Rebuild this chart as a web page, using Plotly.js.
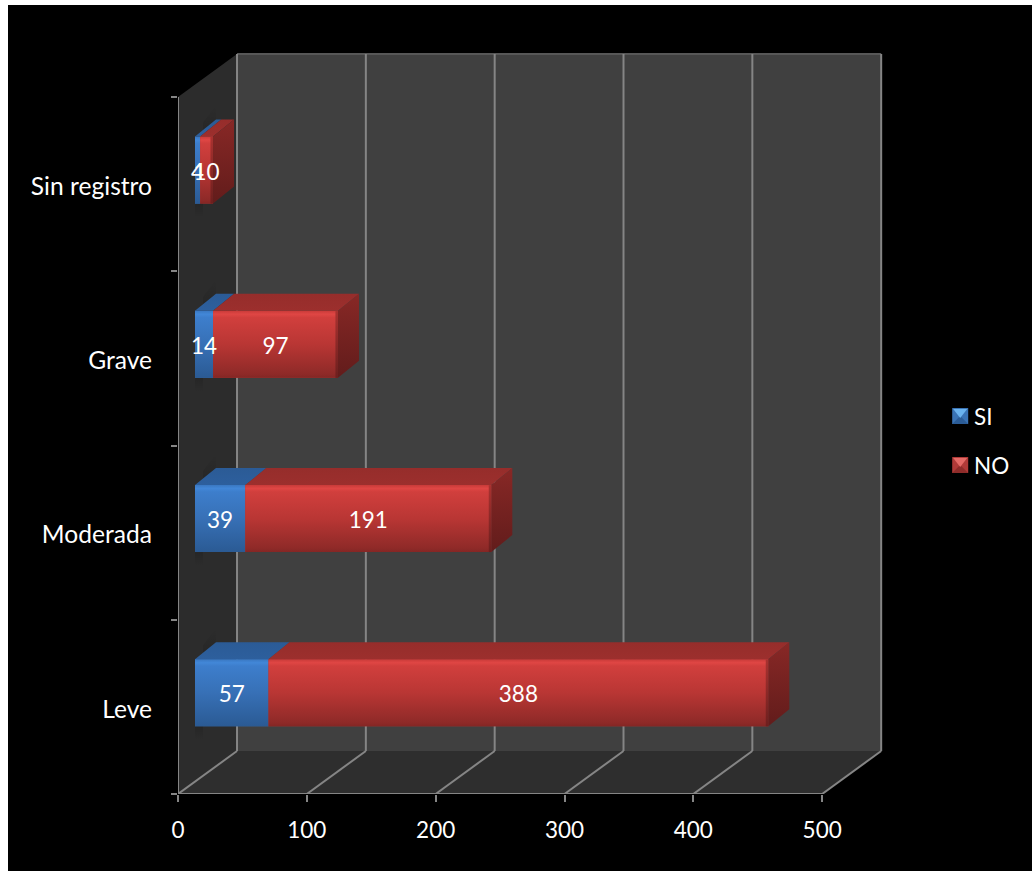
<!DOCTYPE html>
<html>
<head>
<meta charset="utf-8">
<script src="https://cdn.plot.ly/plotly-3.0.1.min.js"></script>
<style>
  html, body { margin: 0; padding: 0; background: #fff; }
  #chart { position: absolute; left: 8px; top: 5px; width: 1024px; height: 866px; }
</style>
</head>
<body>
<div id="chart"></div>
<script>
// Stacked horizontal bars with a pseudo-3D box: walls, floor and bar faces are
// all projected from data units through the cartesian axes.
const categories = ['Leve', 'Moderada', 'Grave', 'Sin registro'];
const siValues = [57, 39, 14, 4];
const noValues = [388, 191, 97, 10];
const xTicks = [0, 100, 200, 300, 400, 500];

// Axis scale, in pixels per unit
const PX_X = 1.288, PX_Y = 174.25;
const XMAX = 548, YMAX = 4.27;

// Depth offsets, in data units
const WALL_DX = 59 / PX_X, WALL_DY = 43 / PX_Y;      // front plane to back wall
const GAP_DX = 17 / PX_X, GAP_DY = 13 / PX_Y;        // front plane to bar front
const BAR_DX = 21 / PX_X, BAR_DY = 17 / PX_Y;        // depth of a bar
const BAR_H = 67 / PX_Y;

const FONT = 'Lato, Carlito, sans-serif';
const FS = 22.5;
const FS_CAT = 24.6;
const GRID = '#858585';

const barCenter = i => i + 0.5 + GAP_DY + 0.006;

function polyPath(pts) {
  return 'M' + pts.map(p => p[0] + ',' + p[1]).join('L') + 'Z';
}

// Walls and floor
const shapes = [
  { type: 'path', layer: 'below', line: { width: 0 }, fillcolor: '#404040',
    path: polyPath([[WALL_DX, WALL_DY], [500 + WALL_DX, WALL_DY], [500 + WALL_DX, 4 + WALL_DY], [WALL_DX, 4 + WALL_DY]]) },
  { type: 'path', layer: 'below', line: { width: 0 }, fillcolor: '#2c2c2c',
    path: polyPath([[0, 0], [WALL_DX, WALL_DY], [WALL_DX, 4 + WALL_DY], [0, 4]]) },
  { type: 'path', layer: 'below', line: { width: 0 }, fillcolor: '#2e2e2e',
    path: polyPath([[0, 0], [500, 0], [500 + WALL_DX, WALL_DY], [WALL_DX, WALL_DY]]) },
  { type: 'line', layer: 'below', line: { color: '#575757', width: 2 },
    x0: WALL_DX, x1: 500 + WALL_DX, y0: 4 + WALL_DY, y1: 4 + WALL_DY }
];
xTicks.forEach(t => {
  shapes.push({ type: 'line', layer: 'below', line: { color: GRID, width: 2 },
    x0: t, y0: 0, x1: t + WALL_DX, y1: WALL_DY });
  shapes.push({ type: 'line', layer: 'below', line: { color: GRID, width: 2 },
    x0: t + WALL_DX, y0: WALL_DY, x1: t + WALL_DX, y1: 4 + WALL_DY });
});

const traces = [];

// Front faces: the real stacked bars, offset into the box
function barTrace(name, values, bases, color) {
  return { type: 'bar', orientation: 'h', name, showlegend: false, hoverinfo: 'x',
    x: values, base: bases, y: categories.map((c, i) => barCenter(i)),
    width: BAR_H, marker: { color, line: { width: 0 } } };
}
const siBase = categories.map(() => GAP_DX);
const noBase = siValues.map(v => v + GAP_DX);
traces.push(barTrace('SI', siValues, siBase, '#3470b8'));
traces.push(barTrace('NO', noValues, noBase, '#b93533'));

// Filled face with a top-to-bottom shade
function face(pts, stops) {
  const closed = pts.concat([pts[0]]);
  traces.push({ type: 'scatter', mode: 'lines', fill: 'toself', showlegend: false, hoverinfo: 'skip',
    x: closed.map(p => p[0]), y: closed.map(p => p[1]), line: { width: 0 },
    fillgradient: { type: 'vertical', colorscale: stops } });
}

const BLUE_FRONT = [[0, '#2b5a93'], [0.06, '#2c5d98'], [0.5, '#3770b6'], [0.9, '#3d7ecc'], [0.95, '#4287d8'], [1, '#3a78c2']];
const RED_FRONT = [[0, '#842624'], [0.06, '#8f2a28'], [0.5, '#b93634'], [0.9, '#d13f3d'], [0.95, '#e04644'], [1, '#c93b39']];
const BLUE_TOP = [[0, '#2d5f9d'], [1, '#2b5b96']];
const RED_TOP = [[0, '#9c2f2d'], [1, '#962d2b']];
const RED_SIDE = [[0, '#621c1b'], [1, '#882826']];
const RED_EDGE = [[0, '#6c1f1e'], [1, '#a93230']];
const SHADOW_UP = [[0, 'rgba(0,0,0,0.16)'], [1, 'rgba(0,0,0,0)']];
const SHADOW_DOWN = [[0, 'rgba(0,0,0,0)'], [1, 'rgba(0,0,0,0.14)']];

categories.forEach((c, i) => {
  const y0 = barCenter(i) - BAR_H / 2, y1 = barCenter(i) + BAR_H / 2;
  const a = GAP_DX, b = a + siValues[i], e = b + noValues[i];
  // Soft shadow the bar throws on the side wall
  const sy = 14 / PX_Y, sx = 8 / PX_X;
  face([[a + sx, y1], [a + BAR_DX, y1 + BAR_DY], [a + BAR_DX, y1 + BAR_DY + sy], [a + sx, y1 + sy]], SHADOW_UP);
  face([[a, y0], [a + sx, y0], [a + sx, y0 - sy], [a, y0 - sy]], SHADOW_DOWN);
  face([[a, y0], [b, y0], [b, y1], [a, y1]], BLUE_FRONT);
  face([[b, y0], [e, y0], [e, y1], [b, y1]], RED_FRONT);
  face([[a, y1], [b, y1], [b + BAR_DX, y1 + BAR_DY], [a + BAR_DX, y1 + BAR_DY]], BLUE_TOP);
  face([[b, y1], [e, y1], [e + BAR_DX, y1 + BAR_DY], [b + BAR_DX, y1 + BAR_DY]], RED_TOP);
  face([[e, y0], [e + BAR_DX, y0 + BAR_DY], [e + BAR_DX, y1 + BAR_DY], [e, y1]], RED_SIDE);
  face([[e - 2, y0], [e, y0], [e, y1], [e - 2, y1]], RED_EDGE);
});

// Front-plane axis lines; they sit on the plot edge, so clipping is off
traces.push({ type: 'scatter', mode: 'lines', showlegend: false, hoverinfo: 'skip', cliponaxis: false,
  x: [0, 0, null, 0, 500], y: [0, 4, null, 0, 0], line: { color: GRID, width: 2 } });

// Value labels centred on each segment
function labelTrace(values, centers) {
  return { type: 'scatter', mode: 'text', showlegend: false, hoverinfo: 'skip',
    x: centers, y: categories.map((c, i) => barCenter(i) - 0.022),
    text: values.map(String), textposition: 'middle center',
    textfont: { family: FONT, size: FS, color: '#fff' } };
}
traces.push(labelTrace(siValues, siValues.map(v => GAP_DX + v / 2)));
traces.push(labelTrace(noValues, noValues.map((v, i) => GAP_DX + siValues[i] + v / 2)));

// Legend entries: the text comes from the legend, the bevelled keys are shapes beside it
function legendTrace(name, group) {
  return { type: 'scatter', mode: 'markers', name, legendgroup: group,
    x: [null], y: [null], marker: { symbol: 'square', size: 12, color: 'rgba(0,0,0,0)', line: { width: 0 } } };
}
traces.push(legendTrace('SI', 'si'));
traces.push(legendTrace('NO', 'no'));

const W = 1024, H = 866;
const marginL = 178 - 8, marginB = 871 - 794;
const marginR = W - marginL - XMAX * PX_X;
const marginT = H - marginB - YMAX * PX_Y;

// Page pixel position to paper fraction, for the legend keys
const paperX = px => (px - 178) / (XMAX * PX_X);
const paperY = py => (794 - py) / (YMAX * PX_Y);

function legendKey(x0, y0, size, body, low, high) {
  const x1 = x0 + size, y1 = y0 + size, cx = x0 + size / 2, cy = y0 + size / 2;
  const tri = (pts, color) => ({ type: 'path', xref: 'paper', yref: 'paper', layer: 'above',
    line: { width: 0 }, fillcolor: color,
    path: polyPath(pts.map(p => [paperX(p[0]), paperY(p[1])])) });
  shapes.push(tri([[x0, y0], [x1, y0], [x1, y1], [x0, y1]], body));
  shapes.push(tri([[x0, y1], [x1, y1], [cx, cy]], low));
  shapes.push(tri([[x0 + 1, y0 + 1], [x1 - 1, y0 + 1], [cx, cy + 2]], high));
}
legendKey(952, 408, 16, '#3a73b5', '#2b5c97', '#6ab2ee');
legendKey(952, 457, 16, '#b03a38', '#8e2c2a', '#e46a66');

const layout = {
  width: W, height: H,
  paper_bgcolor: '#000', plot_bgcolor: 'rgba(0,0,0,0)',
  margin: { l: marginL, r: marginR, t: marginT, b: marginB, pad: 0, autoexpand: false },
  barmode: 'overlay',
  font: { family: FONT, size: FS, color: '#fff' },
  showlegend: true,
  legend: { x: (934 - 8) / W, y: 1 - (395 - 5) / H, xref: 'container', yref: 'container', xanchor: 'left', yanchor: 'top',
    bgcolor: 'rgba(0,0,0,0)', font: { family: FONT, size: FS, color: '#fff' },
    traceorder: 'grouped', tracegroupgap: 17, itemclick: false, itemdoubleclick: false },
  xaxis: { range: [0, XMAX], tickmode: 'array', tickvals: xTicks, ticktext: xTicks.map(String),
    showgrid: false, zeroline: false, showline: false, ticks: 'outside', ticklen: 7, tickwidth: 2, tickcolor: GRID,
    ticklabelstandoff: 9, tickfont: { family: FONT, size: FS, color: '#fff' } },
  yaxis: { range: [0, YMAX], tickmode: 'array',
    tickvals: categories.map((c, i) => i + 0.488), ticktext: categories,
    showgrid: false, zeroline: false, showline: false, ticks: '', ticklabelstandoff: 25,
    minor: { tickmode: 'array', tickvals: [0, 1, 2, 3, 4], ticks: 'outside', ticklen: 6, tickwidth: 2, tickcolor: GRID, showgrid: false },
    tickfont: { family: FONT, size: FS_CAT, color: '#fff' } },
  shapes
};

Plotly.newPlot('chart', traces, layout, { displayModeBar: false });
</script>
</body>
</html>
